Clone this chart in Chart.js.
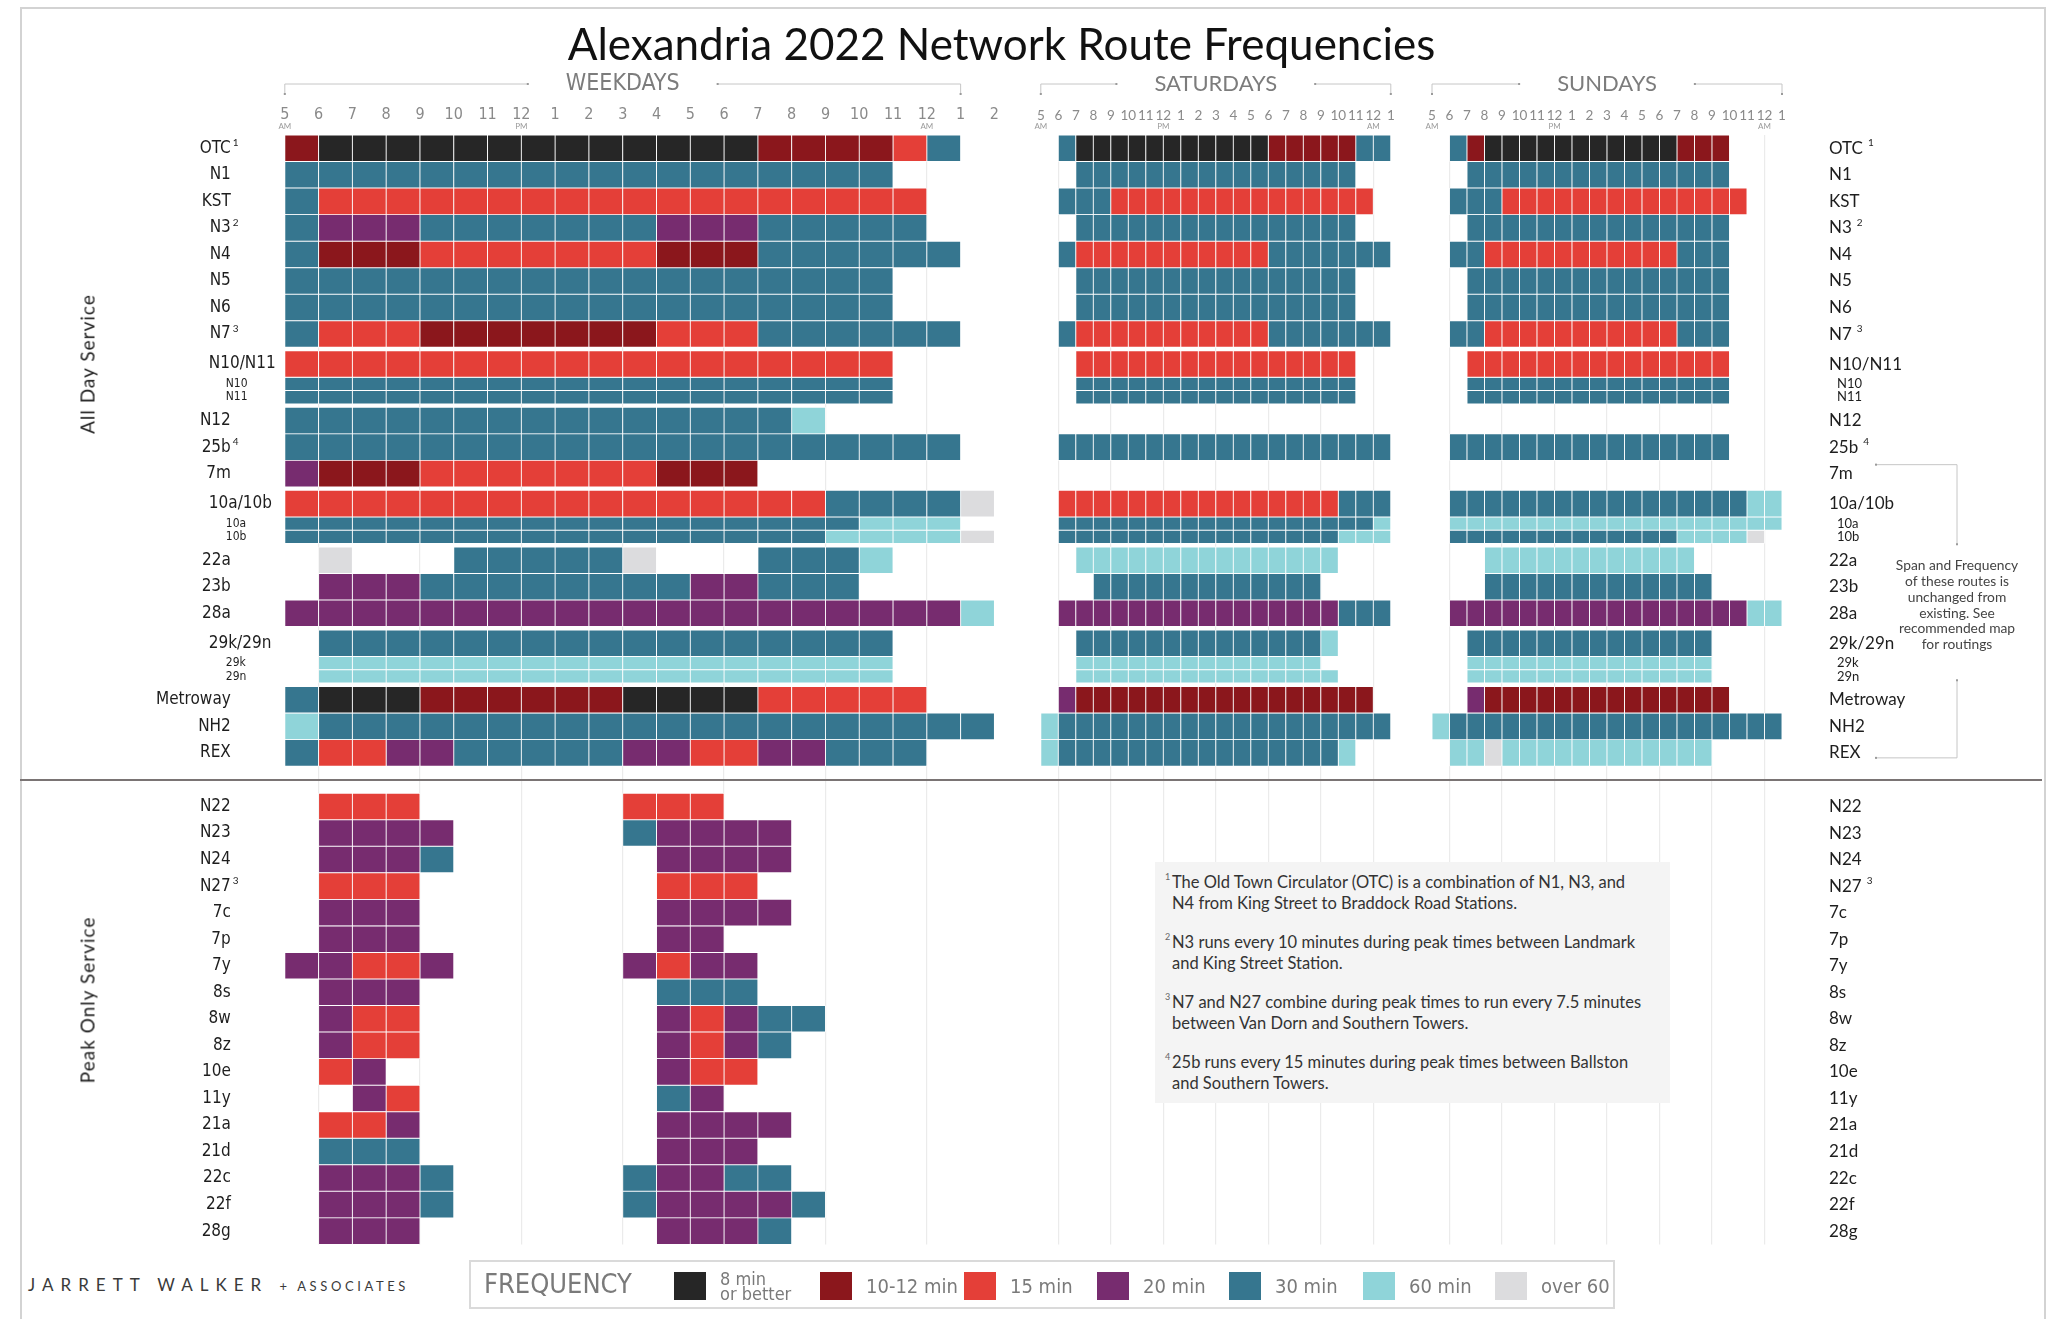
<!DOCTYPE html>
<html>
<head>
<meta charset="utf-8">
<title>Alexandria 2022 Network Route Frequencies</title>
<script src="https://cdn.jsdelivr.net/npm/chart.js@4.4.1/dist/chart.umd.min.js"></script>
<style>
  html, body { margin: 0; background: #fff; }
  #page { position: relative; width: 2058px; height: 1319px; overflow: hidden; font-family: Lato, 'Open Sans', sans-serif; color: #222; }
  #page canvas { position: absolute; top: 0; z-index: 1; }
  .frame { position: absolute; left: 20px; top: 7px; width: 2026px; height: 1400px; border: 2px solid #d3d3d3; box-sizing: border-box; }
  .title { position: absolute; left: 0; top: 17px; width: 2003px; text-align: center; font-size: 44px; color: #111; z-index: 2; }
  .section { position: absolute; left: 87px; transform: translate(-50%, -50%) rotate(-90deg); font-size: 19px; letter-spacing: 1px; color: #222; white-space: nowrap; z-index: 2; }
  .divider { position: absolute; left: 20px; top: 779px; width: 2022px; height: 2px; background: #7a7474; z-index: 2; }
  #notes { position: absolute; left: 1155px; top: 862px; width: 515px; height: 241px; background: #f4f4f4; z-index: 3; box-sizing: border-box; padding: 10px 0 0 17px; font-size: 16.5px; line-height: 20.5px; color: #333; }
  #notes p { margin: 0 0 19px; position: relative; }
  #notes sup { position: absolute; left: -7px; top: -5px; font-size: 9px; color: #666; }
  #legend { position: absolute; left: 469px; top: 1260px; width: 1146px; height: 49px; border: 2px solid #dadada; box-sizing: border-box; z-index: 2; }
  #legend .head { position: absolute; left: 13px; top: 6px; font-family: 'Liberation Sans Narrow', 'DejaVu Sans Condensed', sans-serif; font-size: 27px; color: #7a7a7a; }
  #legend .swatch { position: absolute; top: 10px; width: 32px; height: 28px; }
  #legend .txt { position: absolute; top: 10px; font-family: 'Liberation Sans Narrow', 'DejaVu Sans Condensed', sans-serif; font-size: 20px; line-height: 28px; color: #7a7a7a; white-space: nowrap; }
  #legend .txt.two { font-size: 18px; line-height: 15px; top: 9px; }
  .brand { position: absolute; left: 28px; top: 1274px; font-size: 17px; letter-spacing: 7px; color: #3a3a3a; white-space: nowrap; }
  .brand small { font-size: 13px; letter-spacing: 3.6px; }
</style>
</head>
<body>
<div id="page">
  <div class="frame"></div>
  <div class="title">Alexandria 2022 Network Route Frequencies</div>
  <canvas id="weekdayChart" width="1010" height="1319" style="left:0"></canvas>
  <canvas id="saturdayChart" width="400" height="1319" style="left:1010px"></canvas>
  <canvas id="sundayChart" width="648" height="1319" style="left:1410px"></canvas>
  <div class="section" style="top:364px">All Day Service</div>
  <div class="section" style="top:1000px">Peak Only Service</div>
  <div class="divider"></div>
  <div id="notes">
    <p><sup>1</sup>The Old Town Circulator (OTC) is a combination of N1, N3, and<br>N4 from King Street to Braddock Road Stations.</p>
    <p><sup>2</sup>N3 runs every 10 minutes during peak times between Landmark<br>and King Street Station.</p>
    <p><sup>3</sup>N7 and N27 combine during peak times to run every 7.5 minutes<br>between Van Dorn and Southern Towers.</p>
    <p><sup>4</sup>25b runs every 15 minutes during peak times between Ballston<br>and Southern Towers.</p>
  </div>
  <div id="legend"><span class="head">FREQUENCY</span></div>
  <div class="brand">JARRETT WALKER <small>+ ASSOCIATES</small></div>
</div>
<script>
// frequency classes (legend order)
const freqCodes = ['B', 'D', 'R', 'P', 'T', 'L', 'G'];
const freqLabels = ['8 min or better', '10-12 min', '15 min', '20 min', '30 min', '60 min', 'over 60'];

// routes, top to bottom
const allDayRoutes = ['OTC', 'N1', 'KST', 'N3', 'N4', 'N5', 'N6', 'N7', 'N10/N11', 'N10', 'N11',
  'N12', '25b', '7m', '10a/10b', '10a', '10b', '22a', '23b', '28a', '29k/29n', '29k', '29n',
  'Metroway', 'NH2', 'REX'];
const peakRoutes = ['N22', 'N23', 'N24', 'N27', '7c', '7p', '7y', '8s', '8w', '8z', '10e', '11y',
  '21a', '21d', '22c', '22f', '28g'];
const subRoutes = ['N10', 'N11', '10a', '10b', '29k', '29n'];
const groupStarts = ['N10/N11', 'N12', '10a/10b', '22a', '29k/29n', 'Metroway'];
const noteRefs = { OTC: '1', N3: '2', N7: '3', '25b': '4', N27: '3' };

// hour tick labels, first tick is 5 AM
const weekdayTicks = ['5', '6', '7', '8', '9', '10', '11', '12', '1', '2', '3', '4', '5', '6', '7', '8', '9', '10', '11', '12', '1', '2'];
const weekendTicks = ['5', '6', '7', '8', '9', '10', '11', '12', '1', '2', '3', '4', '5', '6', '7', '8', '9', '10', '11', '12', '1'];
const tickNotes = { 5: 'AM', 12: 'PM', 24: 'AM' };

// hourly frequency from 5 AM as runs: class code + number of hours ('.' = no service)
const weekdayAllDay = [
  'D1 B13 D4 R1 T1', 'T18', 'T1 R18', 'T1 P3 T7 P3 T5', 'T1 D3 R7 D3 T6', 'T18', 'T18',
  'T1 R3 D7 R3 T6', 'R18', 'T18', 'T18', 'T15 L1', 'T20', 'P1 D3 R7 D3', 'R16 T4 G1',
  'T17 L3', 'T16 L4 G1', '.1 G1 .3 T5 G1 .3 T3 L1', '.1 P3 T8 P2 T3', 'P20 L1', '.1 T17',
  '.1 L17', '.1 L17', 'T1 B3 D6 B4 R5', 'L1 T20', 'T1 R2 P2 T5 P2 R2 P2 T3'
];
const weekdayPeak = [
  '.1 R3 .6 R3', '.1 P4 .5 T1 P4', '.1 P3 T1 .6 P4', '.1 R3 .7 R3', '.1 P3 .7 P4',
  '.1 P3 .7 P2', 'P2 R2 P1 .5 P1 R1 P2', '.1 P3 .7 T3', '.1 P1 R2 .7 P1 R1 P1 T2',
  '.1 P1 R2 .7 P1 R1 P1 T1', '.1 R1 P1 .8 P1 R2', '.2 P1 R1 .7 T1 P1', '.1 R2 P1 .7 P4',
  '.1 T3 .7 P3', '.1 P3 T1 .5 T1 P2 T2', '.1 P3 T1 .5 T1 P4 T1', '.1 P3 .7 P3 T1'
];
const saturdayAllDay = [
  '.1 T1 B11 D5 T2', '.2 T16', '.1 T3 R15', '.2 T16', '.1 T1 R11 T7', '.2 T16', '.2 T16',
  '.1 T1 R11 T7', '.2 R16', '.2 T16', '.2 T16', '', '.1 T19', '', '.1 R16 T3', '.1 T18 L1',
  '.1 T16 L3', '.2 L15', '.3 T13', '.1 P16 T3', '.2 T14 L1', '.2 L14', '.2 L15',
  '.1 P1 D17', 'L1 T19', 'L1 T16 L1'
];
const sundayAllDay = [
  '.1 T1 D1 B11 D3', '.2 T15', '.1 T3 R14', '.2 T15', '.1 T2 R11 T3', '.2 T15', '.2 T15',
  '.1 T2 R11 T3', '.2 R15', '.2 T15', '.2 T15', '', '.1 T16', '', '.1 T17 L2', '.1 L19',
  '.1 T13 L4 G1', '.3 L12', '.3 T13', '.1 P17 L2', '.2 T14', '.2 L14', '.2 L14',
  '.2 P1 D14', 'L1 T19', '.1 L2 G1 L12'
];

const freqColors = { B: '#262626', D: '#8b171c', R: '#e43f38', P: '#772c6f', T: '#36768f', L: '#8fd4d9', G: '#dcdcde' };
const NARROW = "'Liberation Sans Narrow', 'Arial Narrow', 'DejaVu Sans Condensed', sans-serif";
const SANS = "Lato, 'Open Sans', sans-serif";
const HOUR_START = 5;

// vertical layout in row units: full row = 1, sub row = half
const SUB_HEIGHT = 0.5;
const GROUP_GAP = 0.13;
const SECTION_GAP = 1.02;
const rowCenter = {};
let rowTop = -0.5;
allDayRoutes.forEach(name => {
  if (groupStarts.includes(name)) rowTop += GROUP_GAP;
  const h = subRoutes.includes(name) ? SUB_HEIGHT : 1;
  rowCenter[name] = rowTop + h / 2;
  rowTop += h;
});
rowTop += SECTION_GAP;
peakRoutes.forEach(name => {
  rowCenter[name] = rowTop + 0.5;
  rowTop += 1;
});
const rowMax = rowTop;

const CANVAS_H = 1319;
const PAD_TOP = 95;      // plus the 40px hour axis above the grid
const AXIS_H = 40;
const PAD_BOTTOM = 74.6;
const rowPx = (CANVAS_H - PAD_TOP - AXIS_H - PAD_BOTTOM) / (rowMax + 0.5);

function expandRuns(runs) {
  const hours = [];
  runs.split(' ').filter(Boolean).forEach(run => {
    const n = parseInt(run.slice(1), 10);
    for (let i = 0; i < n; i++) hours.push(run[0]);
  });
  return hours;
}

function buildDatasets(routes, schedules) {
  const sets = [];
  freqCodes.forEach((code, k) => {
    [false, true].forEach(sub => {
      const data = [];
      routes.forEach((name, i) => {
        if (subRoutes.includes(name) !== sub) return;
        expandRuns(schedules[i]).forEach((c, h) => {
          if (c === code) data.push({ x: [HOUR_START + h, HOUR_START + h + 1], y: rowCenter[name] });
        });
      });
      if (!data.length) return;
      sets.push({
        label: freqLabels[k],
        data,
        backgroundColor: freqColors[code],
        borderColor: '#ffffff',
        borderWidth: 0.8,
        borderSkipped: false,
        grouped: false,
        barThickness: sub ? rowPx * SUB_HEIGHT : rowPx
      });
    });
  });
  return sets;
}

// panel heading with bracket, plus AM / PM under the hour ticks
const panelHeader = {
  id: 'panelHeader',
  afterDraw(chart, args, opts) {
    const { ctx } = chart;
    const xs = chart.scales.x;
    const x0 = xs.getPixelForValue(5);
    const x1 = xs.getPixelForValue(25);
    const cx = (x0 + x1) / 2;
    const y = 84;
    ctx.save();
    ctx.font = opts.font;
    ctx.fillStyle = '#7c7c7c';
    ctx.textAlign = 'center';
    ctx.textBaseline = 'middle';
    ctx.fillText(opts.title, cx, y);
    const half = ctx.measureText(opts.title).width / 2 + 38;
    ctx.strokeStyle = '#c6c6c6';
    ctx.lineWidth = 1;
    ctx.beginPath();
    ctx.moveTo(x0, y + 10); ctx.lineTo(x0, y); ctx.lineTo(cx - half, y);
    ctx.moveTo(cx + half, y); ctx.lineTo(x1, y); ctx.lineTo(x1, y + 10);
    ctx.stroke();
    ctx.fillStyle = '#9a9a9a';
    [[cx - half, y], [cx + half, y], [x0, y + 10], [x1, y + 10]].forEach(([px, py]) => ctx.fillRect(px - 1, py - 1, 2, 2));
    ctx.font = `8px ${SANS}`;
    ctx.fillStyle = '#9a9a9a';
    Object.keys(tickNotes).forEach(h => ctx.fillText(tickNotes[h], xs.getPixelForValue(+h), 126));
    ctx.restore();
  }
};

function drawRef(ctx, ref, x, y) {
  ctx.save();
  ctx.font = `10px ${SANS}`;
  ctx.textAlign = 'left';
  ctx.fillText(ref, x, y - 5);
  ctx.restore();
}

// route names beside the grid
const rowLabels = {
  id: 'rowLabels',
  afterDatasetsDraw(chart, args, opts) {
    const { ctx, chartArea } = chart;
    const ys = chart.scales.y;
    ctx.save();
    ctx.textBaseline = 'middle';
    ctx.fillStyle = '#1e1e1e';
    allDayRoutes.concat(peakRoutes).forEach(name => {
      const py = ys.getPixelForValue(rowCenter[name]);
      const sub = subRoutes.includes(name);
      const ref = noteRefs[name];
      if (opts.side === 'left') {
        ctx.font = sub ? `12px ${NARROW}` : `17px ${NARROW}`;
        if (sub) {
          ctx.textAlign = 'left';
          ctx.fillText(name, chartArea.left - 59, py);
        } else if (name.includes('/')) {
          ctx.textAlign = 'left';
          ctx.fillText(name, chartArea.left - 76, py);
        } else {
          const x = chartArea.left - 54;
          ctx.textAlign = 'right';
          ctx.fillText(name, x, py);
          if (ref) drawRef(ctx, ref, x + 2, py);
        }
      } else {
        ctx.font = sub ? `13px ${SANS}` : `17px ${SANS}`;
        ctx.textAlign = 'left';
        const x = chartArea.right + (sub ? 55 : 47);
        ctx.fillText(name, x, py);
        if (ref) drawRef(ctx, ref, x + ctx.measureText(name).width + 5, py);
      }
    });
    ctx.restore();
  }
};

// side note bracketing the routes with unchanged service
const spanNote = {
  id: 'spanNote',
  afterDraw(chart) {
    const { ctx, chartArea } = chart;
    const ys = chart.scales.y;
    const xa = chartArea.right + 94;
    const xb = chartArea.right + 175;
    const yTop = ys.getPixelForValue(rowCenter['7m']) - 9;
    const yBot = ys.getPixelForValue(rowCenter['REX']) + 5;
    const mid = (yTop + yBot) / 2;
    const lines = ['Span and Frequency', 'of these routes is', 'unchanged from', 'existing. See', 'recommended map', 'for routings'];
    ctx.save();
    ctx.strokeStyle = '#c6c6c6';
    ctx.lineWidth = 1;
    ctx.beginPath();
    ctx.moveTo(xa, yTop); ctx.lineTo(xb, yTop); ctx.lineTo(xb, mid - 67);
    ctx.moveTo(xb, mid + 69); ctx.lineTo(xb, yBot); ctx.lineTo(xa, yBot);
    ctx.stroke();
    ctx.fillStyle = '#9a9a9a';
    [[xa, yTop], [xb, mid - 67], [xb, mid + 69], [xa, yBot]].forEach(([px, py]) => ctx.fillRect(px - 1, py - 1, 2, 2));
    ctx.font = `13.8px ${SANS}`;
    ctx.fillStyle = '#444';
    ctx.textAlign = 'center';
    ctx.textBaseline = 'middle';
    lines.forEach((t, i) => ctx.fillText(t, xb, mid - 6 + (i - 2.5) * 15.8));
    ctx.restore();
  }
};

function makePanel(id, cfg) {
  return new Chart(document.getElementById(id), {
    type: 'bar',
    data: { datasets: buildDatasets(cfg.routes, cfg.schedules) },
    options: {
      indexAxis: 'y',
      responsive: false,
      animation: false,
      devicePixelRatio: 1,
      layout: { padding: { top: PAD_TOP, bottom: PAD_BOTTOM, left: cfg.padLeft, right: cfg.padRight } },
      plugins: {
        legend: { display: false },
        tooltip: { enabled: false },
        panelHeader: { title: cfg.title, font: cfg.headerFont },
        rowLabels: { side: cfg.labelSide }
      },
      scales: {
        x: {
          type: 'linear',
          position: 'top',
          min: HOUR_START,
          max: HOUR_START + cfg.ticks.length - 1,
          afterFit: scale => { scale.height = AXIS_H; },
          border: { display: false },
          grid: {
            drawTicks: false,
            lineWidth: 1.2,
            color: c => (c.tick && c.tick.value >= 6 && c.tick.value <= 24 && (c.tick.value - 6) % 3 === 0) ? '#ebebeb' : 'rgba(0,0,0,0)'
          },
          ticks: {
            stepSize: 1,
            autoSkip: false,
            maxRotation: 0,
            padding: 11,
            color: '#8a8a8a',
            font: cfg.tickFont,
            callback: v => cfg.ticks[v - HOUR_START]
          }
        },
        y: { type: 'linear', reverse: true, offset: false, min: -0.5, max: rowMax, display: false }
      }
    },
    plugins: cfg.plugins
  });
}

makePanel('weekdayChart', {
  routes: allDayRoutes.concat(peakRoutes),
  schedules: weekdayAllDay.concat(weekdayPeak),
  ticks: weekdayTicks,
  title: 'WEEKDAYS',
  headerFont: `23px ${NARROW}`,
  tickFont: { family: NARROW, size: 16 },
  padLeft: 284.8,
  padRight: 9,
  labelSide: 'left',
  plugins: [panelHeader, rowLabels]
});

makePanel('saturdayChart', {
  routes: allDayRoutes,
  schedules: saturdayAllDay,
  ticks: weekendTicks,
  title: 'SATURDAYS',
  headerFont: `22px ${SANS}`,
  tickFont: { family: SANS, size: 13.5 },
  padLeft: 30.8,
  padRight: 19.2,
  plugins: [panelHeader]
});

makePanel('sundayChart', {
  routes: allDayRoutes,
  schedules: sundayAllDay,
  ticks: weekendTicks,
  title: 'SUNDAYS',
  headerFont: `22px ${SANS}`,
  tickFont: { family: SANS, size: 13.5 },
  padLeft: 22,
  padRight: 276,
  labelSide: 'right',
  plugins: [panelHeader, rowLabels, spanNote]
});

// legend strip
const legendLeft = [674, 820, 964, 1097, 1229, 1363, 1495];
const legend = document.getElementById('legend');
freqCodes.forEach((code, i) => {
  const sw = document.createElement('div');
  sw.className = 'swatch';
  sw.style.left = (legendLeft[i] - 471) + 'px';
  sw.style.background = freqColors[code];
  legend.appendChild(sw);
  const tx = document.createElement('div');
  tx.className = 'txt';
  tx.style.left = (legendLeft[i] - 471 + 46) + 'px';
  if (i === 0) {
    tx.classList.add('two');
    tx.innerHTML = '8 min<br>or better';
  } else {
    tx.textContent = freqLabels[i];
  }
  legend.appendChild(tx);
});
</script>
</body>
</html>
